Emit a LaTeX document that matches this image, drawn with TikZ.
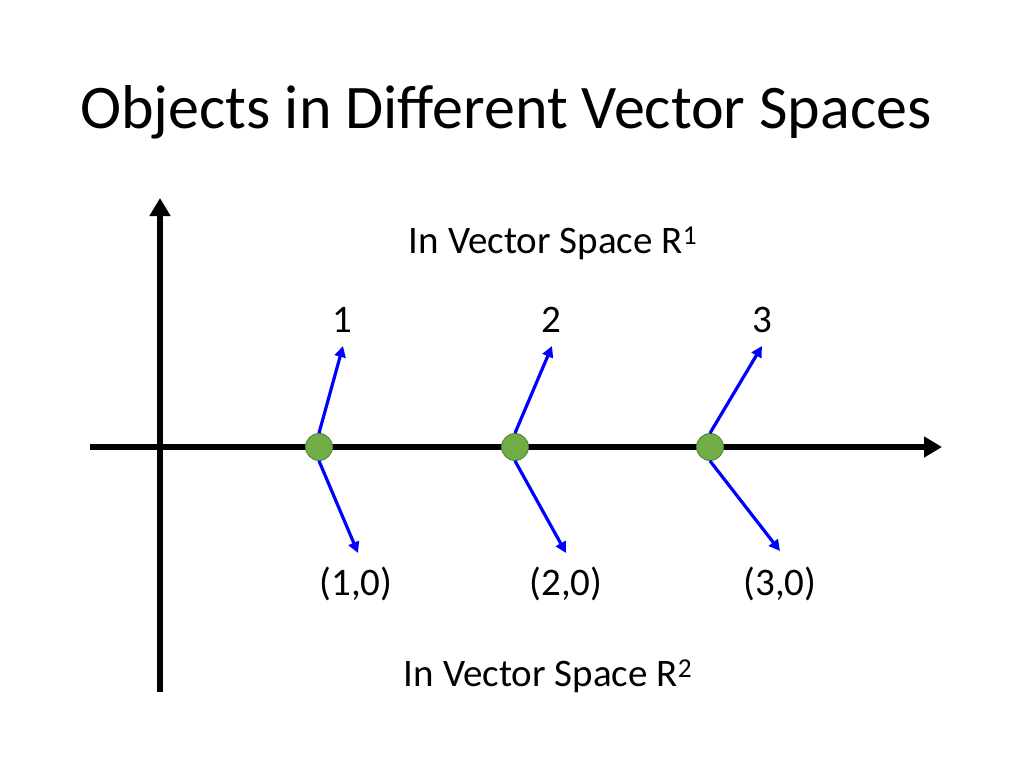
\documentclass[tikz,border=0pt]{standalone}
\usepackage{fontspec}
\setmainfont{Carlito}
\usetikzlibrary{arrows.meta}

\definecolor{ptgreen}{RGB}{112,173,71}
\definecolor{ptedge}{RGB}{80,126,50}
\tikzset{
    axis/.style={line width=5.5pt, -{Triangle[length=18pt,width=20pt]}},
    vec/.style={line width=3.2pt, blue, -{Triangle[length=11pt,width=11pt]}},
    pt/.style={circle, fill=ptgreen, draw=ptedge, line width=0.8pt, minimum size=27pt, inner sep=0pt},
    lbl/.style={font=\fontsize{39}{46}\selectfont}
}

\begin{document}
\begin{tikzpicture}[x=1pt,y=-1pt]
        \useasboundingbox (0,0) rectangle (1024,768);

        % title
        \node[font=\fontsize{62}{74}\selectfont] (title) at (506,112) {Objects in Different Vector Spaces};

        % axes
        \coordinate (xstart) at (90,447);
        \coordinate (xend) at (942,447);
        \coordinate (ystart) at (160,692);
        \coordinate (yend) at (160,198);
        \draw[axis] (xstart) -- (xend);
        \draw[axis] (ystart) -- (yend);

        % points on the line
        \node[pt] (p1) at (319,447) {};
        \node[pt] (p2) at (515,447) {};
        \node[pt] (p3) at (710,447) {};

        % vectors in R1
        \coordinate (u1) at (343,346);
        \coordinate (u2) at (552,346);
        \coordinate (u3) at (762,346);
        \draw[vec] (p1.north) -- (u1);
        \draw[vec] (p2.north) -- (u2);
        \draw[vec] (p3.north) -- (u3);

        % vectors in R2
        \coordinate (d1) at (358,553);
        \coordinate (d2) at (566,553);
        \coordinate (d3) at (780,551);
        \draw[vec] (p1.south) -- (d1);
        \draw[vec] (p2.south) -- (d2);
        \draw[vec] (p3.south) -- (d3);

        \node[lbl] (n1) at (342,320) {1};
        \node[lbl] (n2) at (551,320) {2};
        \node[lbl] (n3) at (762,320) {3};

        \node[lbl] (c1) at (356,584) {(1,0)};
        \node[lbl] (c2) at (566,584) {(2,0)};
        \node[lbl] (c3) at (780,584) {(3,0)};

        \node[lbl] (r1) at (553,243) {In Vector Space R\textsuperscript{1}};
        \node[lbl] (r2) at (548,676) {In Vector Space R\textsuperscript{2}};
    \end{tikzpicture}
\end{document}
